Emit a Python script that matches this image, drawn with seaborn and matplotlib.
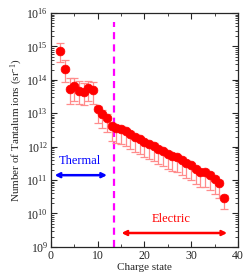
import numpy as np
import pandas as pd
import matplotlib
matplotlib.use('Agg')
import matplotlib.pyplot as plt
import seaborn as sns

# ── data ─────────────────────────────────────────────────────────────────────
charge = list(range(2, 38))
log_ions = [14.87, 14.33, 13.72, 13.82, 13.67, 13.64, 13.76, 13.69,
            13.13, 12.99, 12.87, 12.63, 12.57, 12.53, 12.46, 12.38,
            12.30, 12.22, 12.13, 12.07, 12.02, 11.94, 11.86, 11.78,
            11.72, 11.68, 11.60, 11.52, 11.44, 11.34, 11.24, 11.24,
            11.16, 11.04, 10.92, 10.47]
# error bar length in decades (up / down)
err_up_dec = [0.22, 0.25, 0.35, 0.25, 0.30, 0.28, 0.22, 0.25,
              0.10, 0.10, 0.10, 0.08, 0.08, 0.08, 0.08, 0.08,
              0.08, 0.08, 0.08, 0.08, 0.08, 0.08, 0.08, 0.08,
              0.08, 0.08, 0.08, 0.08, 0.08, 0.08, 0.08, 0.08,
              0.08, 0.08, 0.08, 0.08]
err_lo_dec = [0.35, 0.40, 0.44, 0.44, 0.40, 0.40, 0.40, 0.40,
              0.42, 0.42, 0.42, 0.45, 0.45, 0.45, 0.45, 0.45,
              0.45, 0.45, 0.45, 0.45, 0.45, 0.45, 0.45, 0.45,
              0.45, 0.45, 0.45, 0.45, 0.45, 0.45, 0.45, 0.45,
              0.45, 0.45, 0.45, 0.35]

cut_x = 13.55
thermal_span = (0.2, 12.6)
electric_span = (14.5, 38.3)
thermal_y, electric_y = 1.4e11, 2.6e9

df = pd.DataFrame({'charge': charge, 'ions': 10.0 ** np.array(log_ions)})
lo = df['ions'] - 10.0 ** (np.array(log_ions) - np.array(err_lo_dec))
hi = 10.0 ** (np.array(log_ions) + np.array(err_up_dec)) - df['ions']

sns.set_style('ticks')
plt.rcParams['font.family'] = ['Liberation Serif', 'DejaVu Serif']
plt.rcParams['mathtext.fontset'] = 'custom'
plt.rcParams['mathtext.rm'] = 'Liberation Serif'
plt.rcParams['mathtext.it'] = 'Liberation Serif:italic'

fig = plt.figure(figsize=(2.52, 2.78), dpi=100)
ax = fig.add_axes([0.202, 0.112, 0.742, 0.841])

ax.errorbar(df['charge'], df['ions'], yerr=[lo, hi], fmt='none',
            ecolor='#ff8c8c', elinewidth=0.9, capsize=3, capthick=0.9, zorder=2)
sns.scatterplot(data=df, x='charge', y='ions', ax=ax, color='red', s=40,
                edgecolor='red', linewidth=0.5, zorder=3, legend=False)

ax.set_yscale('log')
ax.set_xlim(0, 40)
ax.set_ylim(1e9, 1e16)
ax.axvline(cut_x, ymax=0.963, color='magenta', ls=(0, (3.2, 2.3)), lw=1.6,
           dash_capstyle='butt', zorder=1)

ax.annotate('', xy=(thermal_span[0], thermal_y), xytext=(thermal_span[1], thermal_y),
            arrowprops=dict(arrowstyle='<->', color='blue', lw=1.8,
                            mutation_scale=7))
ax.text(6.2, 3.6e11, 'Thermal', color='blue', ha='center', va='center', fontsize=9)
ax.annotate('', xy=(electric_span[0], electric_y), xytext=(electric_span[1], electric_y),
            arrowprops=dict(arrowstyle='<->', color='red', lw=1.8,
                            mutation_scale=7))
ax.text(25.7, 7.0e9, 'Electric', color='red', ha='center', va='center', fontsize=9)

ax.set_xticks([0, 10, 20, 30, 40])
ax.set_xticks([5, 15, 25, 35], minor=True)
ax.set_yticks([10.0 ** k for k in range(9, 17)])
ax.yaxis.set_minor_locator(matplotlib.ticker.LogLocator(base=10, subs=np.arange(2, 10), numticks=20))
ax.yaxis.set_minor_formatter(matplotlib.ticker.NullFormatter())
ax.tick_params(which='both', direction='in', top=True, right=True, labelsize=8.5, pad=2)
ax.tick_params(which='major', length=4, width=0.8)
ax.tick_params(which='minor', length=2, width=0.6)
for sp in ax.spines.values():
    sp.set_linewidth(0.9)

ax.set_xlabel('Charge state', fontsize=8, labelpad=1)
ax.set_ylabel('Number of Tantalum ions (sr$^{-1}$)', fontsize=8, labelpad=1)

fig.savefig('out.png', dpi=100)
